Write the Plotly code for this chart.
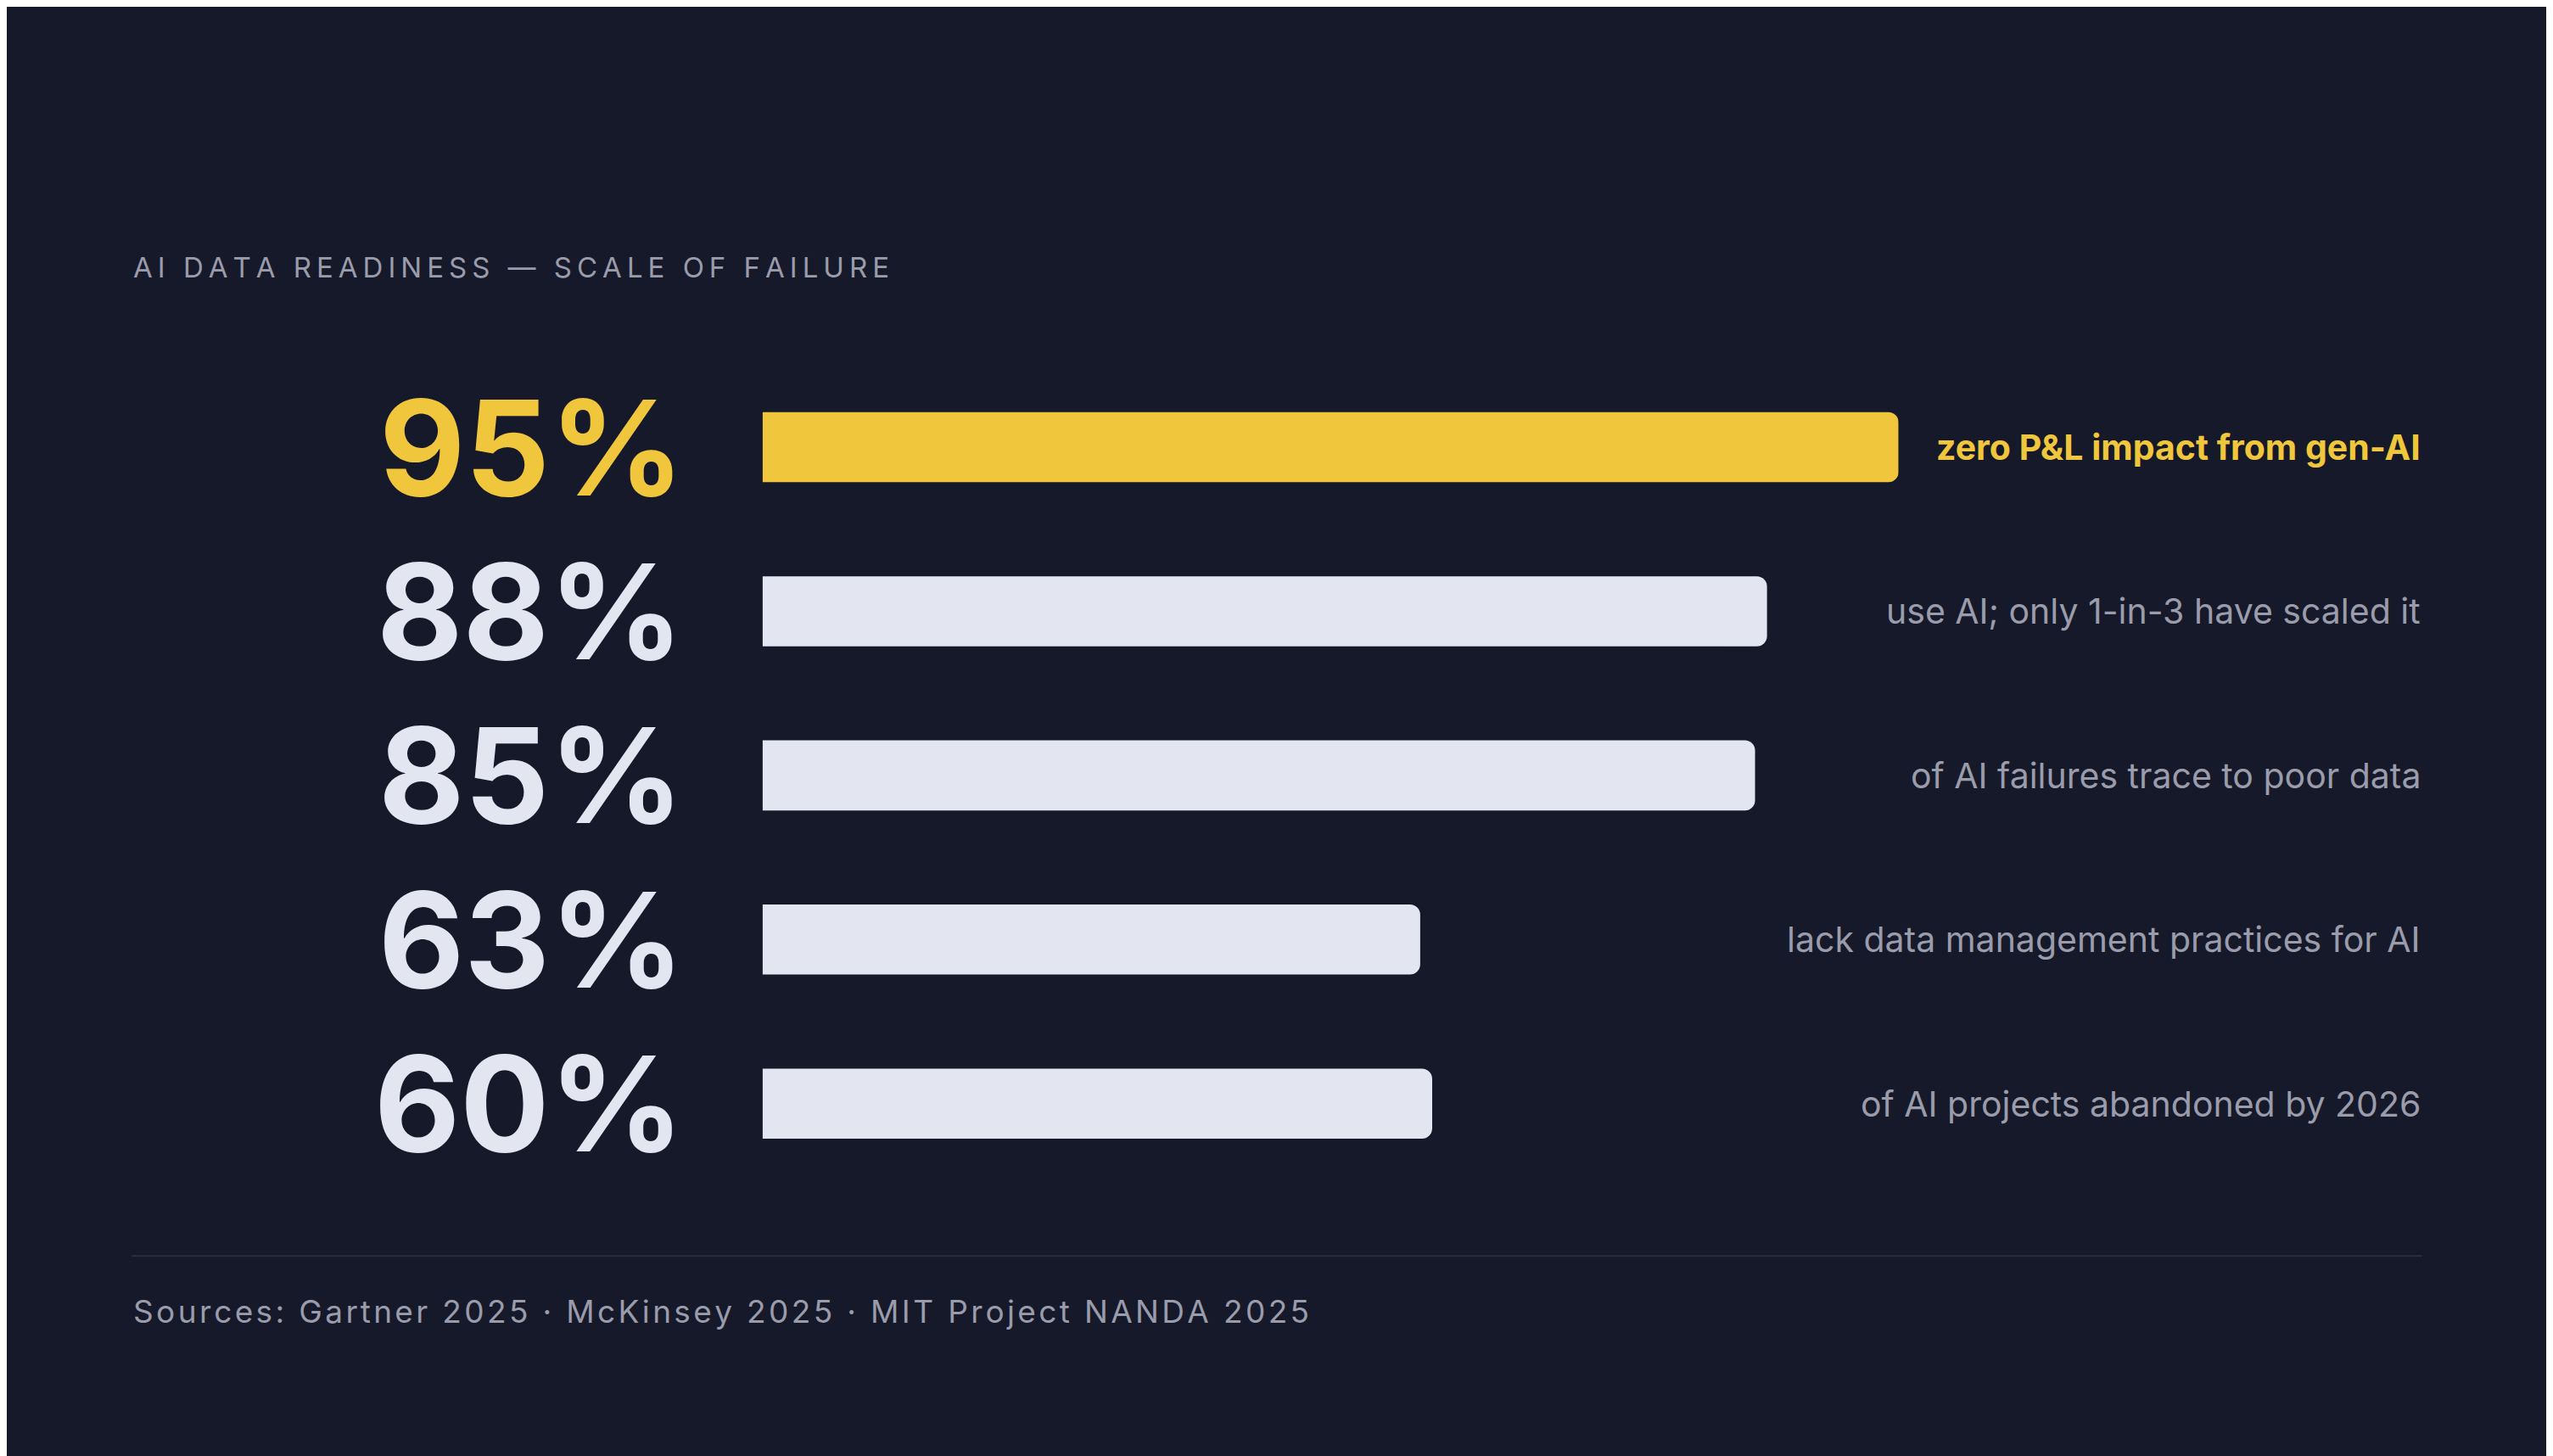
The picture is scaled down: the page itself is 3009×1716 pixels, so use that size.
import plotly.graph_objects as go

# data
pct_labels = ["95%", "88%", "85%", "63%", "60%"]
bar_values = [95, 84, 83, 55, 56]   # bar lengths as drawn
descriptions = ["zero P&L impact from gen-AI",
                "use AI; only 1-in-3 have scaled it",
                "of AI failures trace to poor data",
                "lack data management practices for AI",
                "of AI projects abandoned by 2026"]
rows = ["r0", "r1", "r2", "r3", "r4"]

BG = "#161929"
YEL = "#f0c73c"
LIGHT = "#e3e5f0"
GREY = "#9a9cab"

colors = [YEL] + [LIGHT] * 4

fig = go.Figure()
fig.add_trace(go.Bar(x=bar_values, y=rows, orientation="h",
                     marker=dict(color=colors, cornerradius=12, line_width=0),
                     hoverinfo="skip"))

for i, r in enumerate(rows):
    c = YEL if i == 0 else LIGHT
    fig.add_annotation(x=0.266, xref="paper", y=r, yref="y", text="<b>" + pct_labels[i] + "</b>",
                       showarrow=False, xanchor="right", yanchor="middle",
                       font=dict(size=156, color=c, family="Inter"))
    dc = YEL if i == 0 else GREY
    dt = "<b>" + descriptions[i] + "</b>" if i == 0 else descriptions[i]
    fig.add_annotation(x=0.946, xref="paper", y=r, yref="y", text=dt,
                       showarrow=False, xanchor="right", yanchor="middle",
                       font=dict(size=41, color=dc, family="Inter"))

title = "AI DATA READINESS — SCALE OF FAILURE"
fig.add_annotation(x=0.049, xref="paper", y=1 - 160 / 894, yref="paper",
                   text="\u2009".join(title), showarrow=False, xanchor="left", yanchor="middle",
                   font=dict(size=33, color=GREY, family="Inter"))
fig.add_annotation(x=0.049, xref="paper", y=1 - 801 / 894, yref="paper",
                   text="\u200a".join("Sources: Gartner 2025 · McKinsey 2025 · MIT Project NANDA 2025"),
                   showarrow=False, xanchor="left", yanchor="middle",
                   font=dict(size=37, color=GREY, family="Inter"))
fig.add_shape(type="line", xref="paper", yref="paper", x0=0.049, x1=0.946,
              y0=1 - 767 / 894, y1=1 - 767 / 894, line=dict(color="#2c2f40", width=2))

fig.update_layout(
    width=3009, height=1716, margin=dict(l=0, r=0, t=0, b=0),
    paper_bgcolor=BG, plot_bgcolor=BG, showlegend=False, bargap=0.573,
    xaxis=dict(domain=[0.296, 0.741], range=[0, 95], visible=False, fixedrange=True),
    yaxis=dict(domain=[0.1903, 0.7539], range=[4.5, -0.5], visible=False,
               categoryorder="array", categoryarray=rows, fixedrange=True),
)
fig.write_html("out.html")
